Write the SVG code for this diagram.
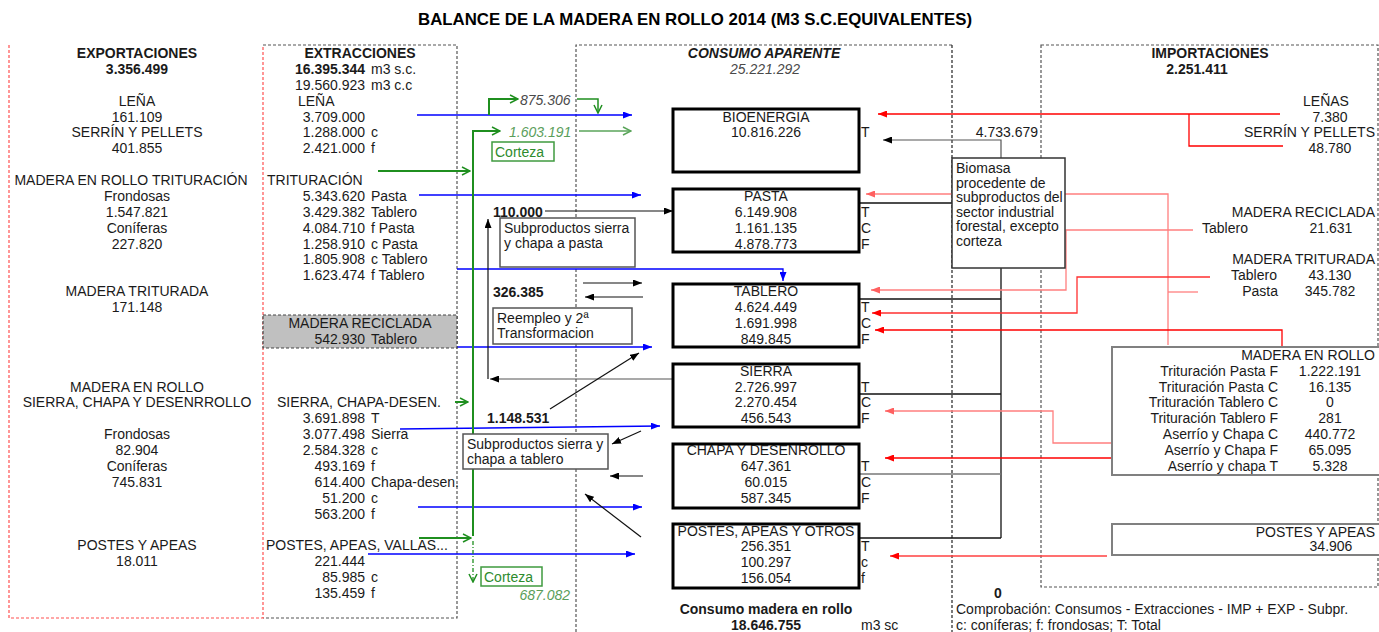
<svg xmlns="http://www.w3.org/2000/svg" width="1379" height="632" viewBox="0 0 1379 632">
<style>
text{font-family:"Liberation Sans",Arial,Helvetica,sans-serif;font-size:14px;fill:#1a1a1a}
.b{font-weight:bold}
.m{text-anchor:middle}
.e{text-anchor:end}
.i{font-style:italic}
.title{font-size:16.6px;font-weight:bold;fill:#000}
.gt{fill:#5a9e5a}
.gk{fill:#2e8b2e}
.dk{fill:#4a4a4a}
.box{fill:#fff;stroke:#000;stroke-width:3}
.nb{fill:#fff;stroke:#555;stroke-width:1.5}
.bio{fill:#fff;stroke:#333;stroke-width:1.5}
.imp{fill:#fff;stroke:#808080;stroke-width:2}
.cz{fill:#fff;stroke:#3f9a3f;stroke-width:1.5}
.dash{fill:none;stroke:#555;stroke-width:1.2;stroke-dasharray:3 2}
.dashk{fill:none;stroke:#222;stroke-width:1.2;stroke-dasharray:3 2}
.dashr{fill:none;stroke:#ff5050;stroke-width:1.2;stroke-dasharray:3 2}
.blu{fill:none;stroke:#0000ff;stroke-width:1.3;marker-end:url(#mb)}
.grn{fill:none;stroke:#1f8f1f;stroke-width:2;marker-end:url(#mg)}
.lgr{fill:none;stroke:#5aa55a;stroke-width:1.5;marker-end:url(#mlg)}
.blk{fill:none;stroke:#111;stroke-width:1.2;marker-end:url(#mk)}
.gry{fill:none;stroke:#555;stroke-width:1.2;marker-end:url(#mk)}
.ln{fill:none;stroke:#111;stroke-width:1.3}
.lng{fill:none;stroke:#777;stroke-width:1.3}
.red{fill:none;stroke:#ff0000;stroke-width:1.3;marker-end:url(#mr)}
.pnk{fill:none;stroke:#ff7f7f;stroke-width:1.3;marker-end:url(#mp)}
.rl{fill:none;stroke:#ff0000;stroke-width:1.3}
.pl{fill:none;stroke:#ff7f7f;stroke-width:1.3}
</style>
<defs>
<marker id="mb" viewBox="0 0 9 7" refX="9" refY="3.5" markerWidth="9" markerHeight="7" markerUnits="userSpaceOnUse" orient="auto"><path d="M0,0L9,3.5L0,7z" fill="#0000ff"/></marker>
<marker id="mk" viewBox="0 0 9 7" refX="9" refY="3.5" markerWidth="9" markerHeight="7" markerUnits="userSpaceOnUse" orient="auto"><path d="M0,0L9,3.5L0,7z" fill="#000"/></marker>
<marker id="mr" viewBox="0 0 9 7" refX="9" refY="3.5" markerWidth="9" markerHeight="7" markerUnits="userSpaceOnUse" orient="auto"><path d="M0,0L9,3.5L0,7z" fill="#ff0000"/></marker>
<marker id="mp" viewBox="0 0 9 7" refX="9" refY="3.5" markerWidth="9" markerHeight="7" markerUnits="userSpaceOnUse" orient="auto"><path d="M0,0L9,3.5L0,7z" fill="#ff6060"/></marker>
<marker id="mg" viewBox="0 0 10 10" refX="9" refY="5" markerWidth="10" markerHeight="10" markerUnits="userSpaceOnUse" orient="auto"><path d="M1,1L9,5L1,9" fill="none" stroke="#1f8f1f" stroke-width="1.5"/></marker>
<marker id="mlg" viewBox="0 0 10 10" refX="9" refY="5" markerWidth="10" markerHeight="10" markerUnits="userSpaceOnUse" orient="auto"><path d="M1,1L9,5L1,9" fill="none" stroke="#5aa55a" stroke-width="1.5"/></marker>
</defs>

<text class="title m" x="695" y="25" textLength="554" lengthAdjust="spacingAndGlyphs">BALANCE DE LA MADERA EN ROLLO 2014 (M3 S.C.EQUIVALENTES)</text>

<g id="frames">
<path class="dash" d="M263,45H457V618H263"/>
<path class="dashr" d="M9,45V618H263V45"/>
<path class="dash" d="M576,632V45H952"/>
<path class="dashk" d="M952,45V632"/>
<rect class="dash" x="1041" y="45" width="337" height="542"/>
</g>

<g id="connectors">
<path class="blu" d="M417,115H632"/>
<path class="blu" d="M419,195H641"/>
<path class="blu" d="M457,269H783V281"/>
<path class="blu" d="M457,347H652"/>
<path class="blu" d="M400,429L660,426"/>
<path class="blu" d="M418,507H642"/>
<path class="blu" d="M368,554H635"/>
<path class="grn" d="M489,115V99H518"/>
<path class="grn" style="stroke-width:1.5" d="M577,99H598V113"/>
<path class="grn" d="M473,536V131H500"/>
<path class="grn" d="M378,171H470"/>
<path class="grn" d="M455,402H468"/>
<path class="grn" d="M419,538H471"/>
<path class="grn" style="stroke-width:1.3;stroke-dasharray:4 2 1 2" d="M473,541V582"/>
<path class="lgr" d="M579,131H631"/>
<path class="blk" d="M545,211H673"/>
<path class="gry" d="M673,379H490"/>
<path class="blk" d="M488,379V219"/>
<path class="blk" d="M583,283H642"/>
<path class="blk" d="M643,297H585"/>
<path class="blk" d="M550,409L639,353"/>
<path class="blk" d="M641,431L612,444"/>
<path class="blk" d="M643,476H610"/>
<path class="blk" d="M641,537L585,494"/>
<path class="gry" d="M1001,158V140H883"/>
<path class="ln" d="M1001,268V538"/>
<path class="ln" d="M859,203H952"/>
<path class="ln" d="M859,299H1001"/>
<path class="ln" d="M859,394H1001"/>
<path class="lng" d="M859,474H1001"/>
<path class="ln" d="M859,538H1001"/>
<path class="red" d="M1280,114H878"/>
<path class="rl" d="M1189,114V146H1283"/>
<path class="pnk" d="M1168,345V194H866"/>
<path class="pl" d="M1198,292H1168"/>
<path class="pnk" d="M1193,230H1066V290H871"/>
<path class="red" style="stroke:#ff3030" d="M1210,277H1077V313H872"/>
<path class="red" d="M1282,347V330H875"/>
<path class="pnk" d="M1112,443H1053V411H885"/>
<path class="red" d="M1112,458H885"/>
<path class="red" style="stroke:#ff4040" d="M1107,556H890"/>
</g>

<g id="exportaciones">
<text class="b m" x="137" y="58">EXPORTACIONES</text>
<text class="b m" x="137" y="74">3.356.499</text>
<text class="m" x="137" y="105.6">LEÑA</text>
<text class="m" x="137" y="121.5">161.109</text>
<text class="m" x="137" y="137.4">SERRÍN Y PELLETS</text>
<text class="m" x="137" y="153.3">401.855</text>
<text class="m" x="131" y="185">MADERA EN ROLLO TRITURACIÓN</text>
<text class="m" x="137" y="200.9">Frondosas</text>
<text class="m" x="137" y="216.8">1.547.821</text>
<text class="m" x="137" y="232.7">Coníferas</text>
<text class="m" x="137" y="248.6">227.820</text>
<text class="m" x="137" y="296.2">MADERA TRITURADA</text>
<text class="m" x="137" y="312.1">171.148</text>
<text class="m" x="137" y="391.5">MADERA EN ROLLO</text>
<text class="m" x="137" y="407.4">SIERRA, CHAPA Y DESENRROLLO</text>
<text class="m" x="137" y="439.1">Frondosas</text>
<text class="m" x="137" y="455">82.904</text>
<text class="m" x="137" y="470.9">Coníferas</text>
<text class="m" x="137" y="486.8">745.831</text>
<text class="m" x="137" y="550.3">POSTES Y APEAS</text>
<text class="m" x="137" y="566.2">18.011</text>
</g>

<g id="extracciones">
<text class="b m" x="360" y="58">EXTRACCIONES</text>
<text class="b e" x="365" y="74">16.395.344</text><text x="371" y="74">m3 s.c.</text>
<text class="e" x="365" y="89.8">19.560.923</text><text x="371" y="89.8">m3 c.c</text>
<text x="298" y="105.6">LEÑA</text>
<text class="e" x="365" y="121.5">3.709.000</text>
<text class="e" x="365" y="137.4">1.288.000</text><text x="371" y="137.4">c</text>
<text class="e" x="365" y="153.3">2.421.000</text><text x="371" y="153.3">f</text>
<text x="267" y="185">TRITURACIÓN</text>
<text class="e" x="365" y="200.9">5.343.620</text><text x="371" y="200.9">Pasta</text>
<text class="e" x="365" y="216.8">3.429.382</text><text x="371" y="216.8">Tablero</text>
<text class="e" x="365" y="232.7">4.084.710</text><text x="371" y="232.7">f Pasta</text>
<text class="e" x="365" y="248.6">1.258.910</text><text x="371" y="248.6">c Pasta</text>
<text class="e" x="365" y="264.4">1.805.908</text><text x="371" y="264.4">c Tablero</text>
<text class="e" x="365" y="280.3">1.623.474</text><text x="371" y="280.3">f Tablero</text>
<text x="277" y="407.4">SIERRA, CHAPA-DESEN.</text>
<text class="e" x="365" y="423.2">3.691.898</text><text x="371" y="423.2">T</text>
<text class="e" x="365" y="439.1">3.077.498</text><text x="371" y="439.1">Sierra</text>
<text class="e" x="365" y="455">2.584.328</text><text x="371" y="455">c</text>
<text class="e" x="365" y="470.9">493.169</text><text x="371" y="470.9">f</text>
<text class="e" x="365" y="486.8">614.400</text><text x="371" y="486.8">Chapa-desen.</text>
<text class="e" x="365" y="502.6">51.200</text><text x="371" y="502.6">c</text>
<text class="e" x="365" y="518.5">563.200</text><text x="371" y="518.5">f</text>
<text x="266" y="550.3">POSTES, APEAS, VALLAS...</text>
<text class="e" x="365" y="566.2">221.444</text>
<text class="e" x="365" y="582">85.985</text><text x="371" y="582">c</text>
<text class="e" x="365" y="597.9">135.459</text><text x="371" y="597.9">f</text>
</g>

<g id="madera-reciclada-ext">
<rect x="263" y="315" width="194" height="33" fill="#c0c0c0" stroke="#444" stroke-width="1.2" stroke-dasharray="3 2"/>
<text class="m" x="360" y="328">MADERA RECICLADA</text>
<text class="e" x="365" y="343.8">542.930</text><text x="371" y="343.8">Tablero</text>
</g>

<g id="consumo-aparente">
<text class="b i m" x="764" y="58">CONSUMO APARENTE</text>
<text class="i m dk" x="765" y="74">25.221.292</text>
</g>

<g id="bioenergia">
<rect class="box" x="673" y="109" width="186" height="63"/>
<text class="m" x="766" y="121.5">BIOENERGIA</text>
<text class="m" x="766" y="137.4">10.816.226</text>
<text x="861" y="137.4">T</text>
</g>

<g id="pasta">
<rect class="box" x="673" y="189" width="186" height="63"/>
<text class="m" x="766" y="200.9">PASTA</text>
<text class="m" x="766" y="216.8">6.149.908</text>
<text class="m" x="766" y="232.7">1.161.135</text>
<text class="m" x="766" y="248.6">4.878.773</text>
<text x="861" y="216.8">T</text><text x="861" y="232.7">C</text><text x="861" y="248.6">F</text>
</g>

<g id="tablero">
<rect class="box" x="673" y="284" width="186" height="63"/>
<text class="m" x="766" y="296.2">TABLERO</text>
<text class="m" x="766" y="312.1">4.624.449</text>
<text class="m" x="766" y="328">1.691.998</text>
<text class="m" x="766" y="343.8">849.845</text>
<text x="861" y="312.1">T</text><text x="861" y="328">C</text><text x="861" y="343.8">F</text>
</g>

<g id="sierra">
<rect class="box" x="673" y="364" width="186" height="63"/>
<text class="m" x="766" y="375.6">SIERRA</text>
<text class="m" x="766" y="391.5">2.726.997</text>
<text class="m" x="766" y="407.4">2.270.454</text>
<text class="m" x="766" y="423.2">456.543</text>
<text x="861" y="391.5">T</text><text x="861" y="407.4">C</text><text x="861" y="423.2">F</text>
</g>

<g id="chapa">
<rect class="box" x="673" y="444" width="186" height="64"/>
<text class="m" x="766" y="455">CHAPA Y DESENROLLO</text>
<text class="m" x="766" y="470.9">647.361</text>
<text class="m" x="766" y="486.8">60.015</text>
<text class="m" x="766" y="502.6">587.345</text>
<text x="861" y="470.9">T</text><text x="861" y="486.8">C</text><text x="861" y="502.6">F</text>
</g>

<g id="postes">
<rect class="box" x="673" y="524" width="186" height="64"/>
<text class="m" x="766" y="536">POSTES, APEAS Y OTROS</text>
<text class="m" x="766" y="551">256.351</text>
<text class="m" x="766" y="566.5">100.297</text>
<text class="m" x="766" y="582.5">156.054</text>
<text x="861" y="551">T</text><text x="861" y="566.5">c</text><text x="861" y="582.5">f</text>
</g>

<g id="consumo-total">
<text class="b m" x="766" y="613.8">Consumo madera en rollo</text>
<text class="b m" x="766" y="629.7">18.646.755</text>
<text x="861" y="629.7">m3 sc</text>
</g>

<g id="flow-labels">
<text class="i dk" x="520" y="105">875.306</text>
<text class="i gt" x="509" y="136.5">1.603.191</text>
<text class="b" x="493" y="216.8">110.000</text>
<text class="b" x="493" y="297">326.385</text>
<text class="b" x="487" y="423.2">1.148.531</text>
<text class="i gt e" x="570" y="599.5">687.082</text>
<text class="e" x="1038" y="137.4">4.733.679</text>
</g>

<g id="corteza-1">
<rect class="cz" x="492" y="142" width="62" height="19"/>
<text class="gk" x="495" y="157">Corteza</text>
</g>

<g id="corteza-2">
<rect class="cz" x="481" y="567" width="61" height="19"/>
<text class="gk" x="484" y="582">Corteza</text>
</g>

<g id="subproductos-pasta">
<rect class="nb" x="500" y="218" width="135" height="49"/>
<text x="504" y="233">Subproductos sierra</text>
<text x="504" y="248">y chapa a pasta</text>
</g>

<g id="reempleo">
<rect class="nb" x="493" y="308" width="139" height="36"/>
<text x="497" y="322.5">Reempleo  y 2ª</text>
<text x="497" y="337.5">Transformacion</text>
</g>

<g id="subproductos-tablero">
<rect class="nb" x="463" y="434" width="145" height="35"/>
<text x="467" y="449">Subproductos sierra y</text>
<text x="467" y="464">chapa a tablero</text>
</g>

<g id="biomasa">
<rect class="bio" x="952" y="158" width="113" height="110"/>
<text x="956" y="173">Biomasa</text>
<text x="956" y="187.5">procedente de</text>
<text x="956" y="202">subproductos del</text>
<text x="956" y="216.5">sector industrial</text>
<text x="956" y="231">forestal, excepto</text>
<text x="956" y="245.5">corteza</text>
</g>

<g id="importaciones">
<text class="b m" x="1210" y="58">IMPORTACIONES</text>
<text class="b m" x="1197" y="74">2.251.411</text>
<text class="m" x="1326" y="105.6">LEÑAS</text>
<text class="m" x="1330" y="121.5">7.380</text>
<text class="e" x="1375" y="137.4">SERRÍN Y PELLETS</text>
<text class="m" x="1330" y="153.3">48.780</text>
<text class="e" x="1375" y="216.8">MADERA RECICLADA</text>
<text x="1202" y="232.7">Tablero</text><text class="m" x="1331" y="232.7">21.631</text>
<text class="e" x="1375" y="264.4">MADERA TRITURADA</text>
<text x="1231" y="280.3">Tablero</text><text class="m" x="1330" y="280.3">43.130</text>
<text class="e" x="1278" y="296.2">Pasta</text><text class="m" x="1330" y="296.2">345.782</text>
</g>

<g id="madera-en-rollo-imp">
<rect class="imp" x="1112" y="347" width="268" height="128"/>
<text class="e" x="1375" y="359.7">MADERA EN ROLLO</text>
<text class="e" x="1278" y="375.6">Trituración Pasta F</text><text class="m" x="1330" y="375.6">1.222.191</text>
<text class="e" x="1278" y="391.5">Trituración Pasta C</text><text class="m" x="1330" y="391.5">16.135</text>
<text class="e" x="1278" y="407.4">Trituración Tablero C</text><text class="m" x="1330" y="407.4">0</text>
<text class="e" x="1278" y="423.2">Trituración Tablero F</text><text class="m" x="1330" y="423.2">281</text>
<text class="e" x="1278" y="439.1">Aserrío y Chapa C</text><text class="m" x="1330" y="439.1">440.772</text>
<text class="e" x="1278" y="455">Aserrío y Chapa F</text><text class="m" x="1330" y="455">65.095</text>
<text class="e" x="1278" y="470.9">Aserrío y chapa T</text><text class="m" x="1330" y="470.9">5.328</text>
</g>

<g id="postes-imp">
<rect class="imp" x="1112" y="524" width="268" height="31"/>
<text class="e" x="1375" y="536.5">POSTES Y APEAS</text>
<text class="m" x="1331" y="551">34.906</text>
</g>

<g id="comprobacion">
<text class="b m" x="998" y="597.9">0</text>
<text x="956" y="613.8">Comprobación: Consumos - Extracciones - IMP + EXP - Subpr.</text>
<text x="956" y="629.7">c: coníferas; f: frondosas; T: Total</text>
</g>
</svg>
